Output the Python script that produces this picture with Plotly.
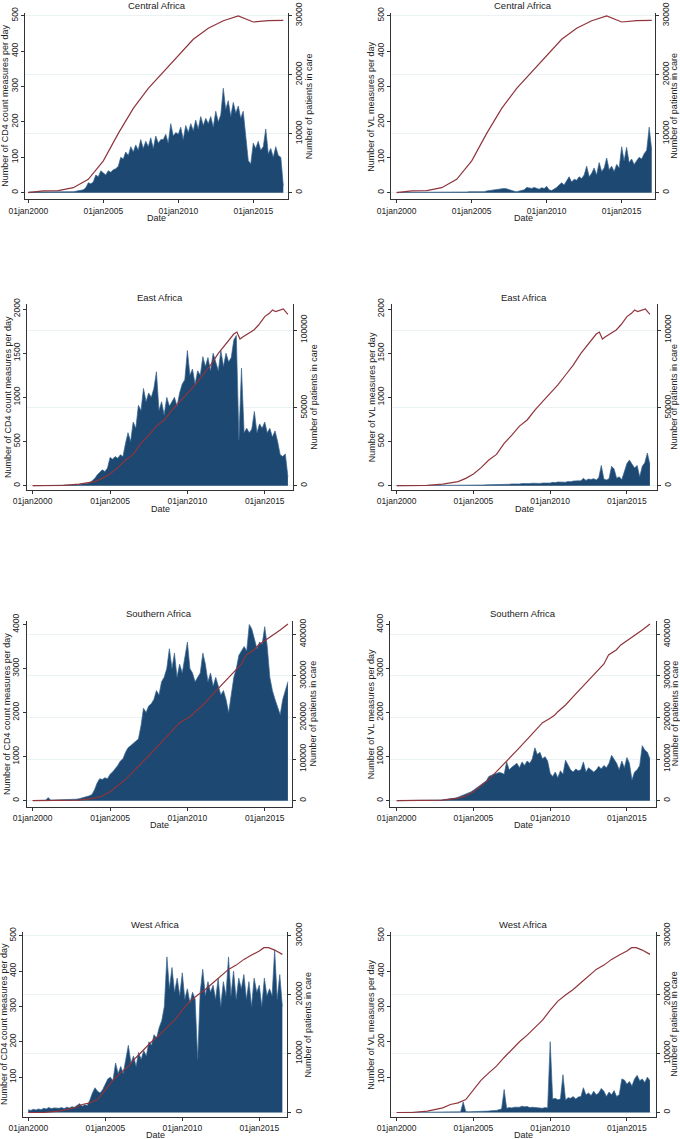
import pandas as pd
import plotly.graph_objects as go

# ---- data: measures per day (2-monthly samples starting jan2000) ----
central_cd4 = [2, 2, 2, 1, 2, 2, 2, 3, 2, 2, 3, 2, 2, 3, 2, 3, 2, 3,
               3, 4, 5, 6, 8, 14, 28, 25, 30, 50, 45, 62, 55, 50, 62, 58, 65, 68,
               75, 100, 95, 115, 105, 130, 115, 135, 120, 150, 125, 145,
               130, 155, 125, 160, 140, 150, 150, 165, 140, 195, 160, 170,
               165, 185, 150, 190, 170, 195, 175, 205, 180, 215, 190, 210,
               195, 215, 185, 230, 200, 220, 295, 235, 260, 215, 255, 225,
               245, 210, 230, 150, 90, 82, 140, 125, 145, 120, 130, 180,
               110, 125, 100, 130, 105, 100, 20]
central_vl = [1, 1, 0, 1, 1, 0, 1, 0, 1, 1, 0, 1, 0, 1, 0, 0, 1, 0,
              0, 0, 1, 0, 0, 0, 0, 0, 1, 2, 2, 3, 3, 3, 2, 3, 4, 3,
              5, 6, 7, 8, 9, 10, 9, 12, 11, 8, 6, 4, 3, 4, 6, 8, 15, 14,
              12, 15, 13, 10, 14, 12, 18, 8, 6, 10, 15, 22, 28, 22, 35, 45, 30, 38,
              35, 45, 40, 50, 75, 45, 55, 70, 50, 85, 60, 70, 98, 65, 75, 60, 80, 70,
              130, 90, 128, 85, 95, 80, 90, 100, 95, 110, 120, 185, 120]
east_cd4 = [0, 0, 0, 1, 1, 1, 1, 1, 2, 2, 2, 2, 3, 3, 4, 6, 8, 10,
            12, 15, 20, 25, 30, 50, 80, 120, 150, 180, 160, 200,
            320, 300, 330, 310, 350, 330, 480, 600, 500, 720, 650, 910,
            850, 1100, 950, 1050, 1000, 1100, 1290, 850, 950, 800, 1000, 900,
            950, 1000, 900, 1050, 1150, 1200, 1530, 1250, 1320, 1150, 1300, 1250,
            1460, 1350, 1450, 1300, 1500, 1400, 1300, 1530, 1350, 1500, 1400, 1450,
            1650, 1700, 520, 1330, 600, 650, 600, 640, 840, 600, 700, 650,
            720, 600, 650, 550, 620, 500, 350, 330, 360, 100]
east_vl = [0, 0, 0, 0, 0, 0, 0, 0, 0, 0, 0, 0, 0, 0, 0, 0, 0, 1,
           1, 1, 1, 2, 2, 2, 2, 3, 3, 4, 4, 5, 5, 6, 6, 8, 8, 10,
           10, 12, 12, 14, 15, 16, 15, 18, 16, 20, 18, 22, 20, 24, 22, 26, 24, 28,
           25, 28, 26, 30, 28, 32, 30, 38, 35, 42, 40, 45, 40, 48, 45, 52, 50, 55,
           55, 83, 60, 75, 70, 80, 65, 90, 230, 75, 65, 80, 220, 190, 85, 100, 70, 150,
           250, 290, 240, 200, 230, 100, 220, 260, 370, 240]
south_cd4 = [5, 8, 6, 8, 10, 10, 70, 12, 14, 15, 18, 20, 20, 22, 25, 28, 30, 35,
             45, 60, 70, 90, 110, 140, 250, 400, 500, 480, 520, 500,
             600, 650, 720, 800, 900, 950, 1100, 1200, 1250, 1300, 1350, 1400,
             1700, 2100, 2000, 2150, 2200, 2300, 2500, 2400, 2700, 2800, 3000, 3450,
             3000, 3350, 2800, 3100, 2900, 3300, 3600, 3000, 2900, 2700, 2800, 2900,
             3350, 3100, 2700, 2900, 2600, 2800, 2600, 2400, 2500, 2300, 2000, 2400,
             2800, 3000, 3300, 3400, 3500, 3400, 4000, 3900, 3700, 3450, 3600, 3550,
             3950, 3500, 2800, 2500, 2300, 2100, 1950, 2300, 2500, 2700]
south_vl = [1, 1, 1, 2, 2, 2, 3, 3, 4, 4, 5, 5, 6, 7, 8, 10, 12, 15,
            20, 25, 30, 40, 50, 60, 80, 100, 120, 150, 170, 200,
            240, 280, 330, 380, 420, 450, 550, 580, 600, 620, 640, 630,
            600, 880, 700, 760, 800, 850, 750, 880, 800, 900, 850, 950,
            1200, 1050, 1100, 950, 1000, 900, 620, 550, 650, 520, 680, 600,
            920, 800, 700, 650, 720, 680, 700, 880, 650, 750, 700, 650,
            700, 780, 720, 800, 750, 850, 1030, 950, 850, 700, 900, 750,
            980, 850, 470, 650, 700, 800, 1250, 1150, 1100, 950]
west_cd4 = [8, 6, 9, 7, 10, 8, 12, 10, 14, 11, 13, 12, 12, 14, 11, 15, 13, 16,
            15, 20, 25, 18, 22, 20, 35, 55, 70, 60, 55, 65,
            80, 95, 100, 90, 140, 110, 130, 110, 150, 190, 140, 160,
            130, 170, 150, 175, 160, 200, 190, 220, 210, 240, 260, 300,
            440, 350, 410, 340, 380, 330, 395, 320, 350, 310, 340, 320,
            150, 340, 405, 330, 370, 340, 360, 320, 380, 300, 370, 330,
            440, 330, 400, 320, 380, 350, 390, 320, 370, 300, 380, 340,
            360, 300, 380, 330, 350, 330, 460, 320, 390, 300]
west_vl = [0, 0, 0, 0, 0, 0, 0, 0, 0, 1, 0, 1, 1, 1, 1, 1, 2, 1,
           2, 2, 1, 2, 2, 2, 2, 2, 30, 3, 2, 2, 2, 2, 3, 3, 4, 4,
           4, 5, 5, 6, 8, 10, 65, 12, 14, 13, 15, 14, 15, 18, 16, 17, 14, 15,
           14, 15, 13, 12, 14, 13, 200, 38, 40, 36, 38, 107, 35, 42, 40, 45, 38, 44,
           45, 70, 50, 55, 48, 60, 50, 55, 68, 60, 45, 58, 50, 62, 45, 50, 95, 92,
           80, 88, 75, 95, 105, 90, 95, 85, 100, 90]

# ---- data: number of patients in care (decimal year, value) ----
central_yr = [2000, 2001, 2002, 2003, 2004, 2005, 2006, 2007, 2008, 2009,
              2010, 2011, 2012, 2013, 2014, 2015, 2016, 2017]
central_pts = [0, 300, 350, 850, 2270, 5400, 10060, 14300, 17700, 20500,
               23340, 26000, 27860, 29150, 29950, 28930, 29150, 29220]
east_yr = [2000, 2001, 2002, 2003, 2004, 2004.5, 2005, 2005.5, 2006, 2006.5, 2007,
           2007.5, 2008, 2008.5, 2009, 2009.5, 2010, 2010.5, 2011, 2011.5, 2012,
           2012.5, 2013, 2013.2, 2013.4, 2013.6, 2014, 2014.3, 2014.6, 2015,
           2015.3, 2015.5, 2015.7, 2016, 2016.2, 2016.4, 2016.5]
east_pts = [0, 0, 200, 1000, 2600, 4700, 7500, 11600, 16500, 20100, 27200,
            32500, 38300, 42200, 48600, 54000, 59300, 64700, 71100, 77500, 85000,
            91000, 97400, 98700, 94200, 95700, 98300, 100000, 103200, 108600,
            110700, 112800, 111800, 112800, 113500, 111100, 110000]
south_yr = [2000, 2002, 2003, 2004, 2004.5, 2005, 2005.5, 2006, 2006.5, 2007,
            2007.5, 2008, 2008.5, 2009, 2009.5, 2010, 2010.3, 2010.5, 2011,
            2011.5, 2012, 2012.5, 2013, 2013.5, 2013.8, 2014, 2014.3, 2014.6,
            2015, 2015.5, 2016, 2016.5]
south_pts = [0, 0, 1600, 6400, 11200, 21600, 36000, 51300, 69700, 88200,
             107400, 127500, 147500, 168300, 187600, 198000, 206000, 214000, 230000,
             250000, 270000, 290000, 310200, 328700, 350300, 354300, 362300, 374400,
             384800, 396000, 410400, 424800]
west_yr = [2000, 2001, 2002, 2003, 2003.5, 2004, 2004.5, 2005, 2005.5, 2006,
           2006.5, 2007, 2007.5, 2008, 2008.5, 2009, 2009.5, 2010, 2010.5, 2011,
           2011.5, 2012, 2012.5, 2013, 2013.5, 2014, 2014.5, 2015, 2015.3, 2015.6,
           2016, 2016.5]
west_pts = [0, 0, 230, 790, 1360, 1640, 2200, 3790, 5490, 6730,
            7870, 9340, 10700, 12000, 13130, 14370, 15680, 17370, 18900, 19920,
            20880, 22010, 23140, 24280, 25010, 25980, 26710, 27390, 27960, 27960,
            27560, 26830]

regions = ["Central Africa", "East Africa", "Southern Africa", "West Africa"]
bars = [(central_cd4, central_vl), (east_cd4, east_vl),
        (south_cd4, south_vl), (west_cd4, west_vl)]
lines = [(central_yr, central_pts), (east_yr, east_pts),
         (south_yr, south_pts), (west_yr, west_pts)]
left_ticks = [[0, 100, 200, 300, 400, 500], [0, 500, 1000, 1500, 2000],
              [0, 1000, 2000, 3000, 4000], [100, 200, 300, 400, 500]]
right_ticks = [[0, 10000, 20000, 30000], [0, 50000, 100000],
               [0, 100000, 200000, 300000, 400000], [0, 10000, 20000, 30000]]
date_ticks = ["2000-01-01", "2005-01-01", "2010-01-01", "2015-01-01"]
date_labels = ["01jan2000", "01jan2005", "01jan2010", "01jan2015"]
ytitles = ["Number of CD4 count measures per day", "Number of VL measures per day"]
y2title = "Number of patients in care"

W, H = 680, 1139
BAR = "#1c4872"
LINE = "#90353b"
FONT = "Liberation Sans, Arial, sans-serif"


def yr2date(y):
    yi = int(y)
    start = pd.Timestamp(yi, 1, 1)
    end = pd.Timestamp(yi + 1, 1, 1)
    return start + (end - start) * (y - yi)


# panel pixel geometry: x0, x1, px of 2000, px per year
xgeo = [[(25, 288, 28.3, 15.0), (391, 655, 396.7, 15.0)],
        [(27.3, 292.7, 32.7, 15.47), (391.7, 656.7, 396.7, 15.35)],
        [(26.7, 291.7, 32.7, 15.47), (390, 656, 396.7, 15.35)],
        [(23.3, 287.3, 28.3, 15.4), (391, 656, 396.7, 15.35)]]
# rows: top, bottom, zero px, (left val, px), (right val, px), title y
ygeo = [(13, 199.3, 192.7, (500, 15.7), (30000, 15.7), 5),
        (304.3, 490, 485.7, (2000, 309), (100000, 330), 297.7),
        (620.7, 806.7, 800.7, (4000, 624.5), (400000, 634.3), 613),
        (931.7, 1116.7, 1112.5, (500, 935.7), (30000, 935.7), 924.3)]

fig = go.Figure()
layout = {}
annotations = []
axis_font = dict(family=FONT, size=8.5, color="#222")


def note(text, xp, yp, angle=0, size=9):
    annotations.append(dict(text=text, x=xp / W, y=1 - yp / H, xref="paper", yref="paper",
                            showarrow=False, xanchor="center", yanchor="middle",
                            textangle=angle, font=dict(family=FONT, size=size, color="#222")))


for r in range(4):
    top, bot, zero, (lv, lp), (rv, rp), ty = ygeo[r]
    lupp = lv / (zero - lp)
    rupp = rv / (zero - rp)
    lrange = [-(bot - zero) * lupp, lv + (lp - top) * lupp]
    rrange = [-(bot - zero) * rupp, rv + (rp - top) * rupp]
    ydom = [1 - bot / H, 1 - top / H]
    for c in range(2):
        k = r * 2 + c + 1
        xid = "x" if k == 1 else f"x{k}"
        yl = 2 * k - 1
        yr = 2 * k
        ylid = "y" if yl == 1 else f"y{yl}"
        yrid = f"y{yr}"
        x0, x1, p2000, ppy = xgeo[r][c]
        xrange = [yr2date(2000 - (p2000 - x0) / ppy), yr2date(2000 + (x1 - p2000) / ppy)]

        vals = bars[r][c]
        dates = pd.date_range("2000-01-01", periods=len(vals), freq="2MS")
        fig.add_trace(go.Scatter(x=dates, y=vals, mode="lines", fill="tozeroy",
                                 line=dict(color="#3a6590", width=0.7),
                                 fillcolor=BAR, xaxis=xid, yaxis=ylid,
                                 showlegend=False, hoverinfo="skip"))
        lyrs, lvals = lines[r]
        fig.add_trace(go.Scatter(x=[yr2date(v) for v in lyrs], y=lvals, mode="lines",
                                 line=dict(color=LINE, width=1.2),
                                 xaxis=xid, yaxis=yrid, showlegend=False,
                                 hoverinfo="skip"))

        xname = "xaxis" if k == 1 else f"xaxis{k}"
        layout[xname] = dict(domain=[x0 / W, x1 / W], anchor=ylid, range=xrange,
                             tickvals=date_ticks, ticktext=date_labels,
                             showline=True, linecolor="#333", linewidth=1,
                             ticks="outside", ticklen=3, tickcolor="#333",
                             showgrid=False, zeroline=False, tickfont=axis_font)
        ylname = "yaxis" if yl == 1 else f"yaxis{yl}"
        layout[ylname] = dict(domain=ydom, anchor=xid, range=lrange,
                              tickvals=left_ticks[r], tickangle=-90,
                              showline=True, linecolor="#333", linewidth=1,
                              ticks="outside", ticklen=3, tickcolor="#333",
                              showgrid=False, zeroline=False, tickfont=axis_font)
        layout[f"yaxis{yr}"] = dict(overlaying=ylid, anchor=xid, side="right",
                                    range=rrange, tickvals=right_ticks[r],
                                    ticktext=[str(v) for v in right_ticks[r]],
                                    tickangle=-90,
                                    showline=True, linecolor="#333", linewidth=1,
                                    ticks="outside", ticklen=3, tickcolor="#333",
                                    showgrid=True, gridcolor="#eaf2f3", gridwidth=1,
                                    zeroline=False, tickfont=axis_font)
        mid_y = (top + bot) / 2
        note(regions[r], (x0 + x1) / 2, ty, size=9.5)
        note("Date", (x0 + x1) / 2, bot + 18.7)
        note(ytitles[c], x0 - 19.5, mid_y, angle=-90)
        note(y2title, min(x1 + 21, 674.5), mid_y, angle=-90)

fig.update_layout(**layout)
fig.update_layout(width=W, height=H,
                  margin=dict(l=0, r=0, t=0, b=0, autoexpand=False),
                  paper_bgcolor="white", plot_bgcolor="white",
                  annotations=annotations, font=dict(family=FONT))
fig.write_html("out.html", post_script="document.body.style.margin='0px';",
               config={"displayModeBar": False})
